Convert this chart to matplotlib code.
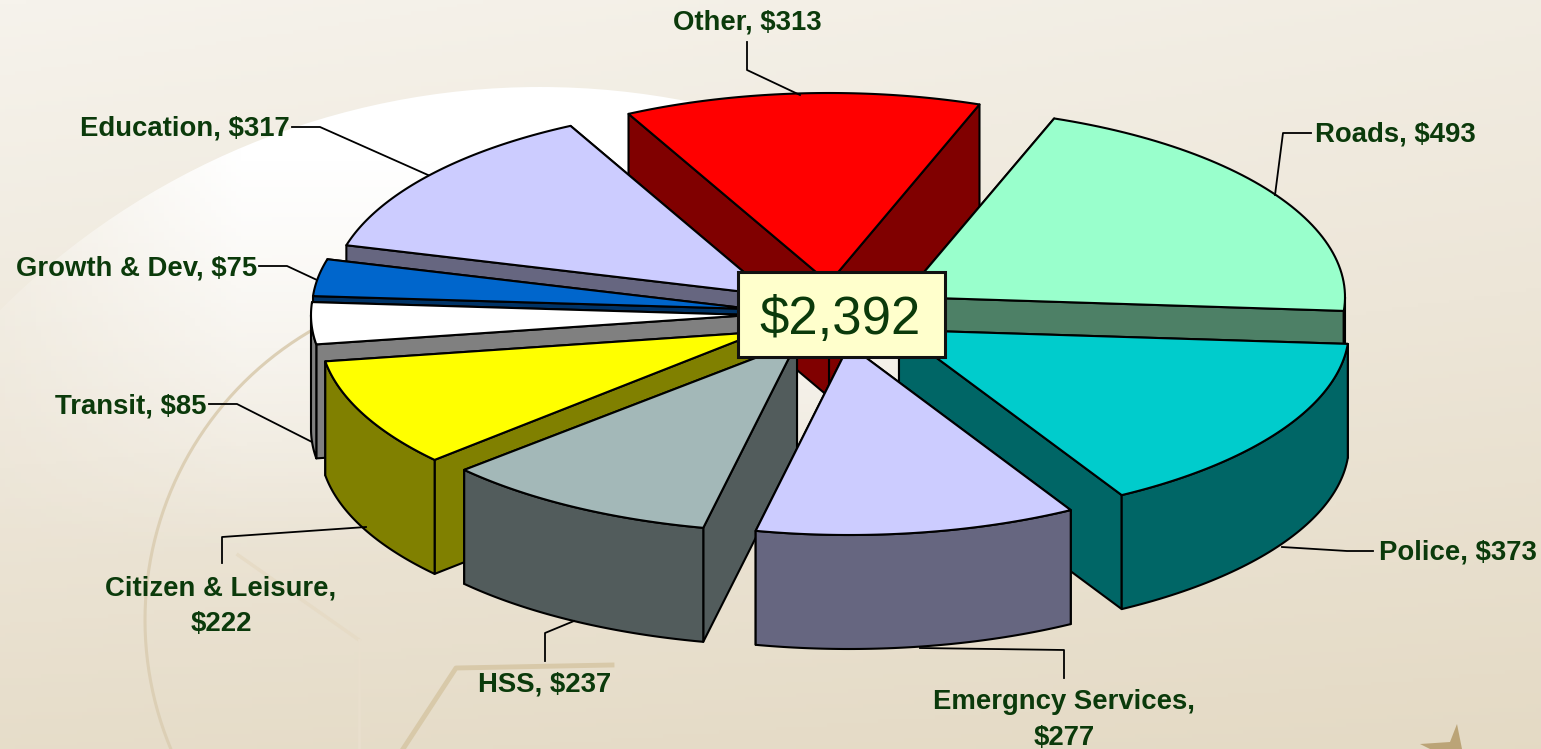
import numpy as np
import matplotlib
matplotlib.use("Agg")
import matplotlib.pyplot as plt
from matplotlib.colors import LinearSegmentedColormap
from matplotlib.patches import Circle, Polygon

W, H = 1541, 749

# data, clockwise from the Roads slice
categories = ["Roads", "Police", "Emergncy Services", "HSS", "Citizen & Leisure",
              "Transit", "Growth & Dev", "Education", "Other"]
values = [493, 373, 277, 237, 222, 85, 75, 317, 313]
total_label = "$2,392"

top_colors = ["#99FFCC", "#00CCCC", "#CCCCFF", "#A3B8B8", "#FFFF00",
              "#FFFFFF", "#0066CC", "#CCCCFF", "#FF0000"]
wall_colors = ["#4D8066", "#006666", "#666680", "#525C5C", "#808000",
               "#808080", "#003366", "#666680", "#800000"]

# look of the pie: tip x, tip y, x radius of each exploded slice
START_ANGLE = 20
RY = 190
DEPTH = 114
geometry = {
    "Roads": (903, 297, 442),
    "Police": (899, 330, 450),
    "Emergncy Services": (849, 345, 448),
    "HSS": (797, 342, 450),
    "Citizen & Leisure": (760, 332, 440),
    "Transit": (751, 315, 440),
    "Growth & Dev": (752, 309, 440),
    "Education": (771, 295, 440),
    "Other": (829, 283, 440),
}
draw_order = ["Other", "Education", "Roads", "Growth & Dev", "Transit", "Police",
              "Citizen & Leisure", "HSS", "Emergncy Services"]

LABEL_COLOR = "#0B3A0B"
FONT = "Liberation Sans"

# text, x, y, ha, leader line
labels = [
    ("Other, $313", 747, 22, "center", [(747, 42), (747, 70), (800, 95)]),
    ("Roads, $493", 1315, 135, "left", [(1311, 133), (1283, 133), (1275, 195)]),
    ("Police, $373", 1379, 553, "left", [(1373, 551), (1347, 551), (1282, 547)]),
    ("Emergncy Services,\n$277", 1064, 720, "center", [(1064, 678), (1064, 650), (920, 648)]),
    ("HSS, $237", 545, 684, "center", [(545, 661), (545, 633), (574, 621)]),
    ("Citizen & Leisure,\n$222", 221, 606, "center", [(222, 563), (222, 537), (366, 527)]),
    ("Transit, $85", 207, 406, "right", [(209, 404), (237, 404), (312, 442)]),
    ("Growth & Dev, $75", 257, 268, "right", [(259, 266), (287, 266), (317, 280)]),
    ("Education, $317", 290, 129, "right", [(292, 127), (320, 127), (428, 175)]),
]


def arc(geo, t0, t1, n=60):
    x, y, rx = geo
    t = np.radians(np.linspace(t0, t1, n))
    return np.column_stack([x + rx * np.sin(t), y - RY * np.cos(t)])


def draw_slice(ax, geo, t0, t1, top, wall):
    tip = np.array(geo[:2], dtype=float)
    rim = arc(geo, t0, t1)
    down = np.array([0, DEPTH])
    style = dict(edgecolor="black", linewidth=1.5, joinstyle="round", zorder=3)
    # the two cut faces, rear one first
    for p in sorted((rim[0], rim[-1]), key=lambda q: q[1]):
        face = [tip, p, p + down, tip + down]
        ax.add_patch(Polygon(face, facecolor=wall, **style))
    # outer wall, only where it faces the viewer
    a = max(t0 % 360, 90) if (t0 % 360) < 270 else None
    if a is not None and min(t1, 270) > a:
        front = arc(geo, a, min(t1, 270))
        ax.add_patch(Polygon(np.vstack([front, front[::-1] + down]), facecolor=wall, **style))
    ax.add_patch(Polygon(np.vstack([[tip], rim]), facecolor=top, **style))


fig = plt.figure(figsize=(W / 100, H / 100), dpi=100)
ax = fig.add_axes([0, 0, 1, 1])

# background: soft beige gradient, lighter towards the top left
yy, xx = np.mgrid[0:1:200j, 0:1:300j]
shade = np.clip(0.8 * yy + 0.25 * xx * (1 - yy) + 0.1 * xx * yy, 0, 1)
bg_cmap = LinearSegmentedColormap.from_list("bg", ["#F6F3EC", "#EDE6D8", "#E2D7C0"])
ax.imshow(shade, cmap=bg_cmap, extent=[0, W, H, 0], aspect="auto", vmin=0, vmax=1, zorder=0)

# large pale disc, fading downwards and towards both sides
py, px = np.mgrid[0:H:200j, 0:W:300j]
glow = np.ones((200, 300, 4))
fade_y = np.clip((560 - py) / 400, 0, 1)
fade_x = np.clip(0.2 + px / 300, 0, 1) * np.clip((1150 - px) / 300, 0, 1)
glow[..., 3] = fade_y * fade_x
img = ax.imshow(glow, extent=[0, W, H, 0], aspect="auto", zorder=1)
img.set_clip_path(Circle((540, 852), 765, transform=ax.transData))

# faint ornament lines of the slide behind the chart
ring = np.radians(np.linspace(112, 250, 80))
ax.plot(480 + 335 * np.cos(ring), 620 - 335 * np.sin(ring), color="#DCCFB5", linewidth=2.2, zorder=2)
ax.plot([403, 456, 612], [749, 668, 665], color="#D8C9A9", linewidth=3.5, zorder=2)
ax.plot([238, 359], [555, 640], color="#E6DBC6", linewidth=2.5, zorder=2)
ax.plot([359, 359], [640, 749], color="#E9DFCD", linewidth=2, zorder=2)
ax.add_patch(Polygon([(1457, 724), (1450, 742), (1420, 744), (1430, 749), (1462, 749)],
                     facecolor="#BBA477", edgecolor="none", zorder=2))

# slice angles come from the values
sweeps = np.array(values) / sum(values) * 360
starts = START_ANGLE + np.concatenate([[0], np.cumsum(sweeps)[:-1]])
for name in draw_order:
    i = categories.index(name)
    draw_slice(ax, geometry[name], starts[i], starts[i] + sweeps[i], top_colors[i], wall_colors[i])

for text, x, y, ha, line in labels:
    ax.text(x, y, text, ha=ha, va="center", color=LABEL_COLOR, fontsize=19.8, family=FONT,
            fontweight="bold", linespacing=1.5, zorder=6)
    xs, ys = zip(*line)
    ax.plot(xs, ys, color="black", linewidth=1.3, zorder=5)

# centre total
ax.add_patch(Polygon([(738, 272), (945, 272), (945, 357), (738, 357)], facecolor="#FFFFCC",
                     edgecolor="#111111", linewidth=2.2, zorder=7))
ax.text(840, 320, total_label, ha="center", va="center", color=LABEL_COLOR, fontsize=38,
        family=FONT, zorder=8)

ax.set_xlim(0, W)
ax.set_ylim(H, 0)
ax.axis("off")
fig.savefig("out.png", dpi=100)
plt.close(fig)
